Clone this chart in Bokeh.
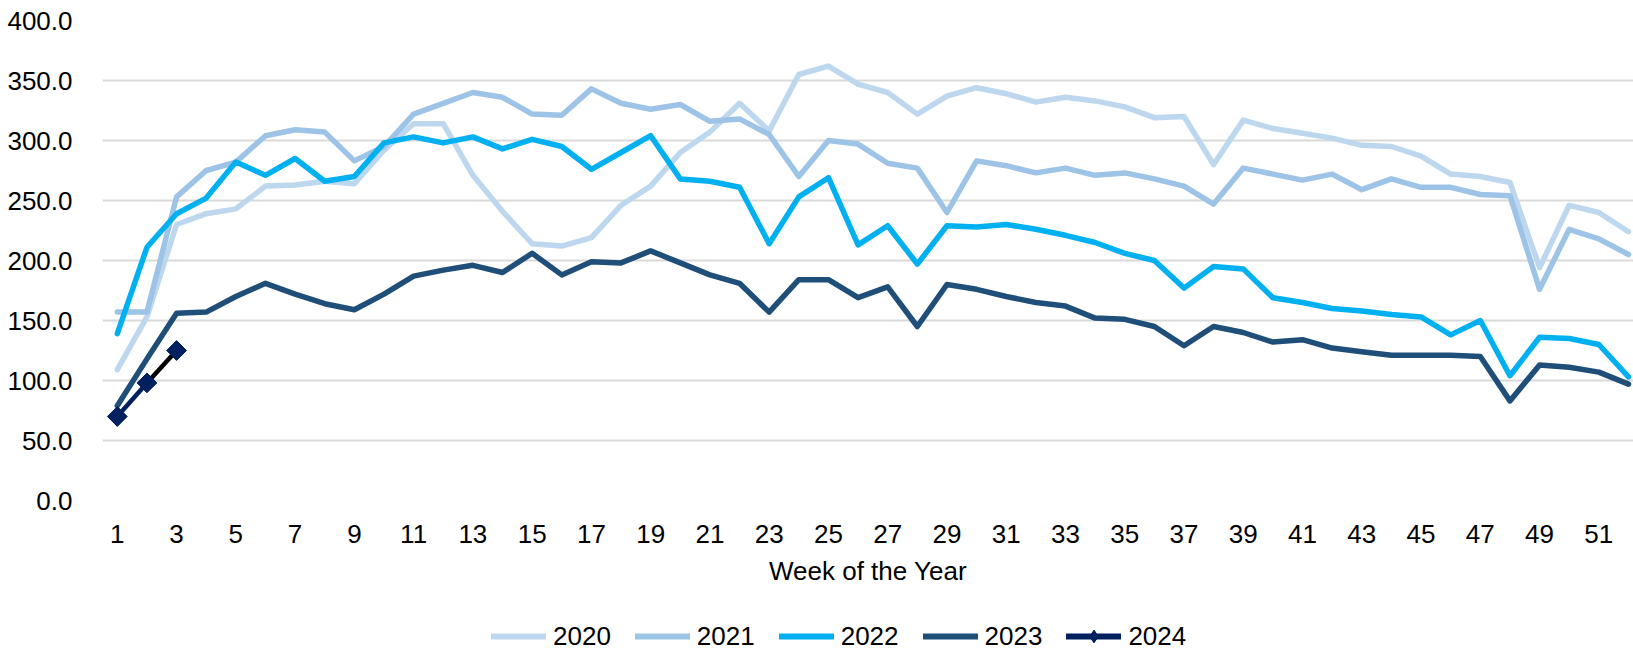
from bokeh.plotting import figure
from bokeh.layouts import column
from bokeh.models import FixedTicker, Legend, LegendItem, Range1d, NumeralTickFormatter
from bokeh.embed import file_html
from bokeh.resources import INLINE

weeks = list(range(1, 53))
x_ticks = list(range(1, 53, 2))
y_ticks = [0, 50, 100, 150, 200, 250, 300, 350, 400]

y2020 = [109, 153, 230, 239, 243, 262, 263, 266, 264, 292, 314, 314, 271, 241, 214, 212,
         219, 246, 262, 290, 307, 331, 308, 355, 362, 347, 340, 322, 337, 344, 339, 332,
         336, 333, 328, 319, 320, 280, 317, 310, 306, 302, 296, 295, 287, 272, 270, 265,
         194, 246, 240, 224]
y2021 = [157, 157, 253, 275, 282, 304, 309, 307, 283, 295, 322, 331, 340, 336, 322, 321,
         343, 331, 326, 330, 316, 318, 305, 270, 300, 297, 281, 277, 240, 283, 279, 273,
         277, 271, 273, 268, 262, 247, 277, 272, 267, 272, 259, 268, 261, 261, 255, 254,
         176, 226, 218, 205]
y2022 = [139, 211, 239, 252, 282, 271, 285, 266, 270, 298, 303, 298, 303, 293, 301, 295,
         276, 290, 304, 268, 266, 261, 214, 253, 269, 213, 229, 197, 229, 228, 230, 226,
         221, 215, 206, 200, 177, 195, 193, 169, 165, 160, 158, 155, 153, 138, 150, 104,
         136, 135, 130, 103]
y2023 = [79, 118, 156, 157, 170, 181, 172, 164, 159, 172, 187, 192, 196, 190, 206, 188,
         199, 198, 208, 198, 188, 181, 157, 184, 184, 169, 178, 145, 180, 176, 170, 165,
         162, 152, 151, 145, 129, 145, 140, 132, 134, 127, 124, 121, 121, 121, 120, 83,
         113, 111, 107, 97]
y2024 = [70, 98, 125]
weeks2024 = weeks[:len(y2024)]

series_names = ["2020", "2021", "2022", "2023", "2024"]
series_values = [y2020, y2021, y2022, y2023]
colors = ["#BDD7EE", "#9DC3E6", "#00B0F0", "#1F4E79", "#002060"]

FONT = "Liberation Sans"
FS = "26px"
LW = 5.5

p = figure(width=1633, height=600, output_backend="svg", toolbar_location=None,
           x_range=Range1d(0.5, 52.17), y_range=Range1d(0, 400),
           min_border_left=102, min_border_right=0, min_border_top=20, min_border_bottom=100)
p.outline_line_color = None

for ys, c in zip(series_values, colors[:4]):
    p.line(weeks, ys, line_color=c, line_width=LW, line_join="round", line_cap="round")

p.line(weeks2024[:2], y2024[:2], line_color=colors[4], line_width=4.5, line_join="round")
p.line(weeks2024[1:], y2024[1:], line_color="black", line_width=4.5, line_join="round")
p.scatter(weeks2024, y2024, marker="square", size=14, angle=0.785398,
          fill_color=colors[4], line_color=colors[4])

p.xaxis.ticker = FixedTicker(ticks=x_ticks)
p.yaxis.ticker = FixedTicker(ticks=y_ticks)
p.yaxis.formatter = NumeralTickFormatter(format="0.0")
for ax in (p.xaxis[0], p.yaxis[0]):
    ax.axis_line_color = None
    ax.major_tick_line_color = None
    ax.minor_tick_line_color = None
    ax.major_label_text_font = FONT
    ax.major_label_text_font_size = FS
    ax.major_label_text_color = "#000000"
p.yaxis.major_label_standoff = 24
p.xaxis.major_label_standoff = 18
p.xaxis.axis_label = "Week of the Year"
p.xaxis.axis_label_text_font = FONT
p.xaxis.axis_label_text_font_size = FS
p.xaxis.axis_label_text_font_style = "normal"
p.xaxis.axis_label_text_color = "#000000"
p.xaxis.axis_label_standoff = 10

p.xgrid.grid_line_color = None
p.ygrid.grid_line_color = "#D9D9D9"
p.ygrid.grid_line_width = 2

# legend strip (series drawn off-range; only the legend shows)
lp = figure(width=1633, height=52, output_backend="svg", toolbar_location=None,
            x_range=Range1d(-20, -10), y_range=Range1d(0, 400),
            min_border_left=0, min_border_right=0, min_border_top=0, min_border_bottom=0)
lp.outline_line_color = None
lp.axis.visible = False
lp.grid.visible = False

items = []
for name, ys, c in zip(series_names[:4], series_values, colors[:4]):
    r = lp.line(weeks, ys, line_color=c, line_width=6, line_cap="round")
    items.append(LegendItem(label=name, renderers=[r]))
ra = lp.line(weeks2024, y2024, line_color=colors[4], line_width=6, line_cap="round")
rm = lp.scatter(weeks2024, y2024, marker="diamond", size=14,
                fill_color=colors[4], line_color=colors[4])
items.append(LegendItem(label="2024", renderers=[ra, rm]))

legend = Legend(items=items, orientation="horizontal", location=(389, 0),
                glyph_width=55, glyph_height=32, label_height=20, label_standoff=7, spacing=24,
                padding=0, margin=0, border_line_color=None, background_fill_alpha=0,
                label_text_font=FONT, label_text_font_size=FS, label_text_color="#000000")
lp.add_layout(legend, "center")

layout = column(p, lp, spacing=0)
open("out.html", "w").write(file_html(layout, INLINE))
